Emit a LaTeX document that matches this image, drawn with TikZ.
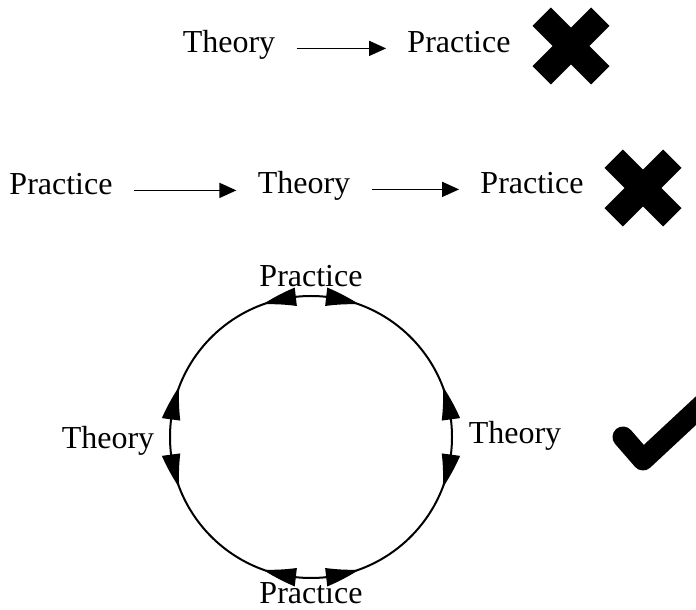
\documentclass[tikz,border=0pt]{standalone}
\usepackage{fontspec}
\setmainfont{Liberation Serif}
\usetikzlibrary{arrows.meta,bending}

\begin{document}
\begin{tikzpicture}[x=0.5pt,y=0.5pt,
		word/.style={inner sep=0pt, anchor=base, font=\fontsize{16}{19}\selectfont},
		flow/.style={-{Triangle[length=8.5pt,width=7.5pt]}, line width=0.8pt, shorten <=10.5pt, shorten >=10.5pt},
		cyc tip/.style={-{Triangle[length=17pt,width=9pt,bend]}, line width=1pt},
		nope/.style={line width=13pt, line cap=butt},
		yes/.style={line width=10.5pt, line cap=round, line join=round}]
			\useasboundingbox (0,0) rectangle (696,610);
			% first line
			\node[word] (t1) at (229,557) {Theory};
			\node[word] (p1) at (459,557) {Practice};
			% second line
			\node[word] (p2) at (61,415) {Practice};
			\node[word] (t2) at (304,416) {Theory};
			\node[word] (p3) at (532,416) {Practice};
			\path[flow]
			(p2.mid east) edge (t2.mid west |- p2.mid east)
			(t1.mid east) edge (p1.mid west)
			(t2.mid east) edge (p3.mid west);
			% crosses
			\coordinate (x1) at (571,564);
			\coordinate (x2) at (643,422);
			\foreach \c in {x1,x2}
			{
				\draw[nope] ([shift={(-29.3,-29.3)}]\c) -- ([shift={(29.3,29.3)}]\c);
				\draw[nope] ([shift={(-29.3,29.3)}]\c) -- ([shift={(29.3,-29.3)}]\c);
			}
			% cycle
			\coordinate (cyc) at (311,173);
			\node[word] (pt) at (311,323) {Practice};
			\node[word] (pb) at (311,6) {Practice};
			\node[word] (tl) at (108,161) {Theory};
			\node[word] (tr) at (515,166) {Theory};
			\draw[line width=1pt] (cyc) circle[radius=141];
			\foreach \a/\b in {96/110, 84/70, 173/159, 187/201, 264/250, 276/290, 7/21, -7/-21}
			\draw[cyc tip] ([shift={(\a:141)}]cyc) arc[start angle=\a, end angle=\b, radius=141];
			% tick
			\coordinate (k1) at (623,173);
			\coordinate (k2) at (643,150);
			\coordinate (k3) at (716,218);
			\draw[yes] (k1) -- (k2) -- (k3);
		\end{tikzpicture}
\end{document}
